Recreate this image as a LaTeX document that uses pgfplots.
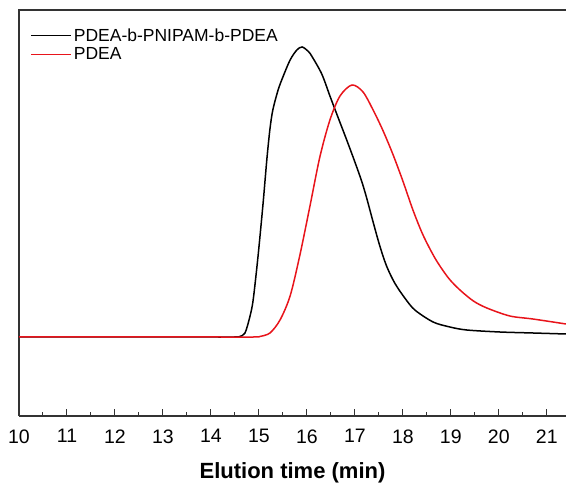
\documentclass[border=0pt]{standalone}
\usepackage{fontspec}
\setmainfont{Liberation Sans}
\usepackage{pgfplots}
\pgfplotsset{compat=1.18}
\definecolor{spine}{HTML}{333333}
\definecolor{pdea}{HTML}{E8141B}

\begin{document}
\begin{tikzpicture}
\begin{axis}[
  scale only axis, width=547pt, height=406pt,
  xmin=10, xmax=21.4, ymin=0, ymax=406,
  axis x line*=bottom, axis y line*=left,
  axis line style={spine, line width=1.3pt},
  xtick={10,11,...,21}, minor x tick num=1, xtick pos=bottom,
  ytick=\empty,
  tick align=inside,
  major tick length=7pt, minor tick length=4pt,
  tick style={spine, line width=1pt},
  /pgf/number format/assume math mode=true,
  tick label style={font=\fontsize{19.5}{22}\selectfont},
  xticklabel style={yshift=-10pt},
  xlabel={\textbf{Elution time (min)}},
  xlabel style={font=\fontsize{22}{26}\selectfont, yshift=-12pt},
  legend style={draw=none, fill=none, at={(0.015,0.965)}, anchor=north west,
                font=\fontsize{17.5}{20}\selectfont, row sep=1pt,
                cells={anchor=west}},
  legend image code/.code={\draw[#1] (0pt,0pt) -- (40pt,0pt);},
]
\coordinate (o) at (axis cs:10,0);
\addplot[black, line width=1.5pt, smooth, tension=0.5] coordinates {
  (10,79) (12,79) (14,79) (14.50,79) (14.60,79.5) (14.71,83) (14.81,99)
  (14.88,116) (14.98,159) (15.08,209) (15.125,234) (15.17,259) (15.23,287)
  (15.29,306) (15.40,326) (15.50,339) (15.65,356) (15.79,366) (15.90,369)
  (16.02,365) (16.10,360) (16.31,342) (16.48,320) (16.63,301) (16.83,276)
  (17.00,254) (17.14,235) (17.24,219) (17.38,194) (17.52,170) (17.66,150)
  (17.83,133) (18.04,118) (18.25,106) (18.63,94) (18.98,89) (19.33,86)
  (20.02,84) (20.71,83) (21.40,82)};
\addplot[pdea, line width=1.5pt, smooth, tension=0.5] coordinates {
  (10,79) (12,79) (14,79) (14.90,79) (15.02,79.5) (15.23,83) (15.44,96)
  (15.65,120) (15.85,160) (16.06,209) (16.27,259) (16.48,296) (16.69,320)
  (16.94,331) (17.17,324) (17.38,306) (17.58,286) (17.79,262) (18.00,235)
  (18.21,206) (18.42,181) (18.68,157) (18.95,138) (19.19,126) (19.47,115)
  (19.75,108) (20.23,100) (20.71,97) (21.40,92)};
\legend{PDEA-b-PNIPAM-b-PDEA, PDEA}
\end{axis}
% top spine only; the right side stays open as in the original
\draw[spine, line width=1.5pt] (o) ++(-0.65pt,406pt) -- ++(548pt,0pt);
\draw[white, line width=0.2pt] (o) ++(-18.8pt,-72.8pt) rectangle ++(565.6pt,488.6pt);
\pgfresetboundingbox
\path[use as bounding box] (o) ++(-19pt,-73pt) rectangle ++(566pt,489pt);
\end{tikzpicture}
\end{document}
